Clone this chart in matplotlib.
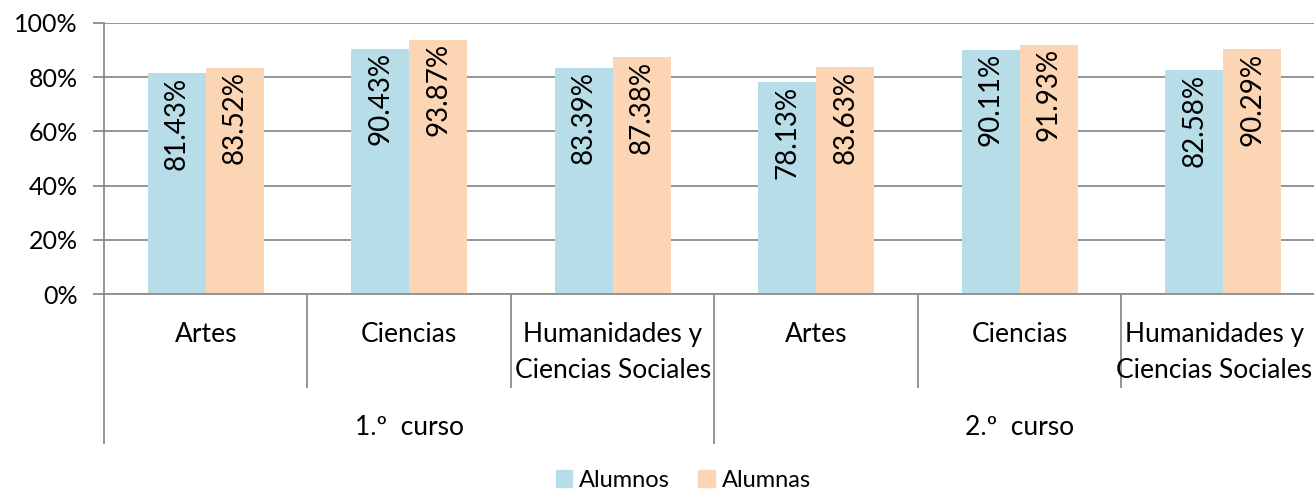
import matplotlib.pyplot as plt
from matplotlib.patches import Patch
from matplotlib.ticker import PercentFormatter
import numpy as np

# datos
categorias = ['Artes', 'Ciencias', 'Humanidades y\nCiencias Sociales',
              'Artes', 'Ciencias', 'Humanidades y\nCiencias Sociales']
cursos = ['1.º  curso', '2.º  curso']
alumnos = [81.43, 90.43, 83.39, 78.13, 90.11, 82.58]
alumnas = [83.52, 93.87, 87.38, 83.63, 91.93, 90.29]

plt.rcParams['font.family'] = ['Lato', 'DejaVu Sans']

color_alumnos = '#B7DEE8'
color_alumnas = '#FCD5B5'
gris = '#8C8C8C'

fig = plt.figure(figsize=(13.14, 4.91), dpi=100)
W, H = 1314, 491
# el eje sigue más allá del borde derecho, como en la imagen recortada
ax = fig.add_axes([104 / W, (H - 294) / H, 6 * 203.5 / W, 271 / H])

x = np.arange(len(categorias))
ancho = 0.285
ax.bar(x - ancho / 2, alumnos, ancho, color=color_alumnos, zorder=2)
ax.bar(x + ancho / 2, alumnas, ancho, color=color_alumnas, zorder=2)

# etiquetas de datos
for xi, v in zip(x - ancho / 2, alumnos):
    ax.text(xi, v - 1.2, f'{v:.2f}%', rotation=90, ha='center', va='top', fontsize=20)
for xi, v in zip(x + ancho / 2, alumnas):
    ax.text(xi, v - 1.2, f'{v:.2f}%', rotation=90, ha='center', va='top', fontsize=20)

ax.set_xlim(-0.5, 5.5)
ax.set_ylim(0, 100)
ax.set_yticks(range(0, 101, 20))
ax.yaxis.set_major_formatter(PercentFormatter(decimals=0))
ax.tick_params(axis='y', labelsize=18, length=8, color=gris, width=1.3, pad=11)
ax.set_xticks([])
ax.grid(axis='y', color=gris, linewidth=1.3, zorder=0)
for s in ['top', 'right']:
    ax.spines[s].set_visible(False)
ax.spines['left'].set_color(gris)
ax.spines['left'].set_linewidth(1.3)
ax.spines['bottom'].set_color(gris)
ax.spines['bottom'].set_linewidth(1.3)

# etiquetas multinivel bajo el eje
tr = ax.get_xaxis_transform()
for i, (xi, cat) in enumerate(zip(x, categorias)):
    dx = -0.045 if i == len(categorias) - 1 else 0
    ax.text(xi + dx, -0.105, cat, transform=tr, ha='center', va='top', fontsize=19,
            linespacing=1.55)
for i, curso in enumerate(cursos):
    ax.text(1 + 3 * i, -0.445, curso, transform=tr, ha='center', va='top', fontsize=19)

for b in [0.5, 1.5, 3.5, 4.5]:
    ax.plot([b, b], [0, -0.343], transform=tr, color=gris, lw=1.3, clip_on=False)
for b in [-0.5, 2.5]:
    ax.plot([b, b], [0, -0.55], transform=tr, color=gris, lw=1.3, clip_on=False)

handles = [Patch(color=color_alumnos, label='Alumnos'),
           Patch(color=color_alumnas, label='Alumnas')]
fig.legend(handles=handles, loc='center', bbox_to_anchor=(0.52, 0.022), ncol=2,
           frameon=False, fontsize=17, handlelength=0.7, handleheight=0.7,
           handletextpad=0.3, columnspacing=1.2)

plt.savefig('out.png', dpi=100)
